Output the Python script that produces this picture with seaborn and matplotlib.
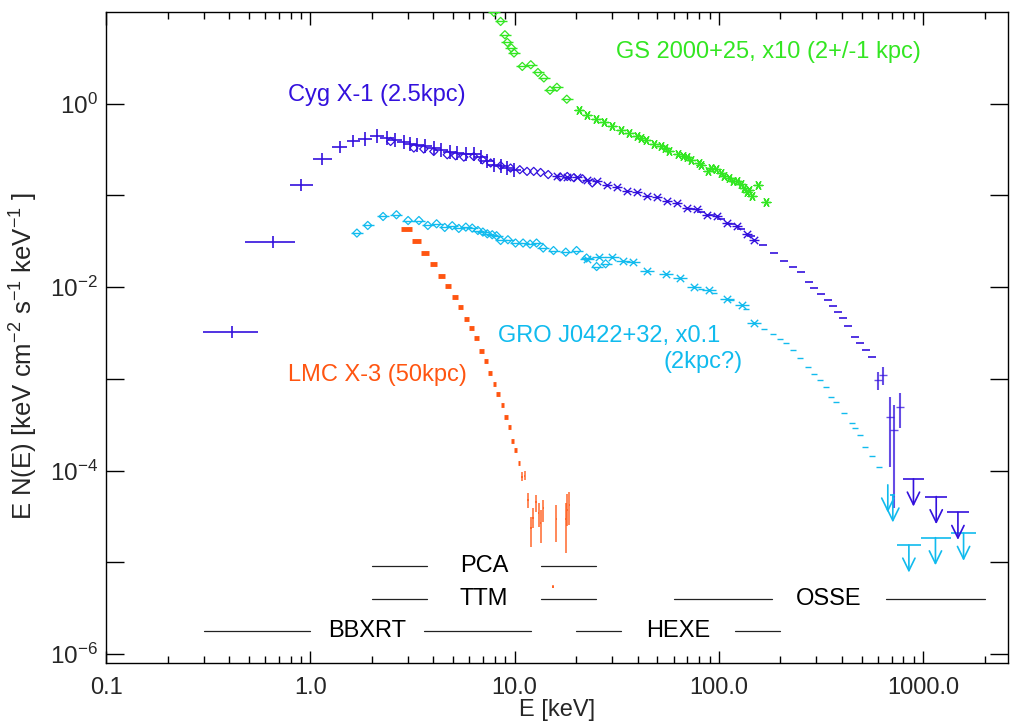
import numpy as np
import pandas as pd
import matplotlib
matplotlib.use('Agg')
import matplotlib.pyplot as plt
from matplotlib.markers import MarkerStyle
from matplotlib.ticker import FixedLocator, FixedFormatter, NullFormatter, NullLocator, LogLocator
import seaborn as sns

CYG = '#3311dd'
GRO = '#11bbee'
GS = '#33e622'
LMC = '#ff5511'

# ---- Cyg X-1 ----
# BBXRT, wide bins at low energy
cyg_bb_e = [0.415, 0.656, 0.900, 1.14, 1.39, 1.62]
cyg_bb_elo = [0.299, 0.480, 0.792, 1.03, 1.28, 1.51]
cyg_bb_ehi = [0.556, 0.844, 1.026, 1.27, 1.51, 1.76]
cyg_bb_f = [3.26e-3, 0.0313, 0.130, 0.249, 0.337, 0.392]
cyg_bb_flo = [2.81e-3, 0.0269, 0.112, 0.214, 0.290, 0.337]
cyg_bb_fhi = [3.79e-3, 0.0364, 0.151, 0.289, 0.392, 0.455]
# BBXRT, narrow bins
cyg_bb2_e = [1.86, 2.12, 2.38, 2.61, 2.87, 3.09, 3.33, 3.66, 4.02, 4.34, 4.82, 5.24,
             5.75, 6.31, 6.81, 7.35, 7.92, 8.54, 9.21, 9.93]
cyg_bb2_f = [0.415, 0.440, 0.423, 0.405, 0.379, 0.364, 0.355, 0.342, 0.329, 0.315, 0.297, 0.290,
             0.285, 0.283, 0.262, 0.235, 0.216, 0.207, 0.199, 0.191]
# PCA / TTM
cyg_pca_e = [2.47, 3.21, 3.59, 4.02, 4.68, 5.14, 5.64, 6.31, 6.95, 7.63, 8.54, 9.55, 10.6,
             11.5, 12.4, 13.4, 14.6, 16.7, 18.1, 19.5, 21.5, 24.0]
cyg_pca_f = [0.388, 0.329, 0.321, 0.302, 0.278, 0.271, 0.262, 0.266, 0.245, 0.226, 0.211, 0.199,
             0.191, 0.183, 0.183, 0.178, 0.169, 0.159, 0.161, 0.156, 0.152, 0.137]
# HEXE
cyg_hexe_e = [16.1, 18.0, 20.1, 22.5, 25.2, 28.2, 31.6, 35.4, 39.6, 44.4, 49.7, 55.6, 62.2,
              69.7, 78.0, 87.3, 97.7, 109, 122, 137, 149]
cyg_hexe_f = [0.164, 0.158, 0.157, 0.146, 0.143, 0.129, 0.124, 0.112, 0.108, 0.098, 0.096,
              0.086, 0.083, 0.073, 0.071, 0.062, 0.059, 0.050, 0.047, 0.038, 0.033]
# OSSE
cyg_osse_e = [72.9, 81.6, 91.4, 102, 115, 128, 144, 164, 187, 209, 230, 252, 277, 293, 316,
              341, 361, 382, 404, 428, 461, 493, 526, 561]
cyg_osse_f = [0.0716, 0.0664, 0.0608, 0.0557, 0.0491, 0.0433, 0.0363, 0.0285, 0.0235, 0.0191,
              0.0166, 0.0145, 0.0115, 0.00977, 0.00848, 0.00729, 0.00627, 0.00535, 0.0046,
              0.00382, 0.0029, 0.00249, 0.00207, 0.00173]
cyg_osse_hi_e = [600, 634, 684, 723, 774]
cyg_osse_hi_f = [9.77e-4, 1.11e-3, 3.89e-4, 2.79e-4, 5.0e-4]
cyg_osse_hi_flo = [7.6e-4, 8.62e-4, 1.11e-4, 3.9e-5, 2.9e-4]
cyg_osse_hi_fhi = [1.2e-3, 1.36e-3, 6.43e-4, 5.22e-4, 7.0e-4]
cyg_ul_e = [896, 1158, 1479]
cyg_ul_elo = [795, 1023, 1311]
cyg_ul_ehi = [1014, 1311, 1675]
cyg_ul_f = [8.13e-5, 5.22e-5, 3.52e-5]

# ---- GRO J0422+32 (x0.1) ----
gro_bb_e = [1.69, 1.91, 2.27, 2.64, 3.01, 3.40, 3.76, 4.15, 4.55, 4.95, 5.33, 5.77, 6.20, 6.61,
            6.99, 7.35, 7.77, 8.16, 8.54, 9.27, 10.1, 11.0, 11.9, 12.8, 13.8, 15.5, 17.8, 20.1,
            22.5, 25.2, 27.9]
gro_bb_f = [0.0389, 0.0471, 0.059, 0.0616, 0.0533, 0.0533, 0.0471, 0.0491, 0.0448, 0.0468,
            0.0437, 0.0452, 0.0441, 0.0415, 0.0399, 0.0382, 0.0373, 0.0364, 0.0323, 0.0329,
            0.0303, 0.0303, 0.0295, 0.0303, 0.0267, 0.0251, 0.0241, 0.0251, 0.0208, 0.0168, 0.018]
gro_hexe_e = [22.7, 25.9, 29.8, 34.1, 37.8, 44.7, 55.0, 64.6, 75.1, 89.0, 109, 130, 149]
gro_hexe_f = [0.0204, 0.0213, 0.0213, 0.0194, 0.0188, 0.0152, 0.014, 0.0126, 0.0100, 0.00937,
              0.00741, 0.00643, 0.00406]
gro_osse_e = [81.6, 94.5, 115, 136, 167, 183, 199, 213, 230, 250, 272, 293, 314, 335, 354, 375,
              411, 447, 464, 493, 516, 561, 611]
gro_osse_f = [0.0096, 0.0086, 0.0073, 0.0058, 0.00352, 0.00308, 0.00272, 0.00246, 0.00207,
              0.00169, 0.00135, 0.00114, 9.77e-4, 8.26e-4, 6.43e-4, 5.67e-4, 4.24e-4, 3.3e-4,
              2.9e-4, 2.46e-4, 1.79e-4, 1.45e-4, 1.11e-4]
gro_ul_e = [671, 710, 851, 1148, 1576]
gro_ul_elo = [671, 690, 746, 970, 1371]
gro_ul_ehi = [671, 730, 970, 1371, 1820]
gro_ul_f = [7.0e-5, 5.45e-5, 1.55e-5, 1.86e-5, 2.08e-5]

# ---- GS 2000+25 (x10) ----
gs_bb_e = [7.92, 8.54, 8.96, 9.21, 9.64, 9.93, 10.9, 12.0, 13.0, 13.9, 14.9, 16.1, 18.0]
gs_bb_f = [9.9, 7.89, 5.65, 4.66, 4.05, 3.57, 2.55, 2.66, 2.19, 1.91, 1.40, 1.51, 1.12]
gs_hexe_e = [20.7, 22.7, 24.9, 27.4, 30.1, 33.1, 36.3, 39.9, 41.5, 43.9, 48.2, 52.0, 54.5, 57.0,
             62.8, 66.4, 69.5, 72.9, 80.0, 81.6, 88.1, 91.4, 96.6, 102, 106, 112, 117, 123, 128,
             133, 138, 141, 146, 155, 170]
gs_hexe_f = [0.845, 0.759, 0.681, 0.625, 0.575, 0.512, 0.479, 0.44, 0.42, 0.405, 0.366, 0.342,
             0.33, 0.302, 0.285, 0.271, 0.26, 0.245, 0.226, 0.215, 0.183, 0.20, 0.194, 0.175,
             0.161, 0.155, 0.142, 0.142, 0.135, 0.12, 0.108, 0.115, 0.0975, 0.131, 0.0847]

# ---- LMC X-3 ----
lmc_e = [2.96, 3.31, 3.66, 4.02, 4.37, 4.73, 5.10, 5.43, 5.82, 6.15, 6.53, 6.89, 7.23, 7.60,
         7.97, 8.32, 8.71, 9.06, 9.42, 9.78, 10.1, 10.5]
lmc_f = [0.0433, 0.0315, 0.0235, 0.0179, 0.0134, 0.0104, 0.0078, 0.00601, 0.00452, 0.00358,
         0.00281, 0.00202, 0.00156, 0.00117, 8.78e-4, 6.88e-4, 5.26e-4, 3.83e-4, 3.03e-4,
         2.11e-4, 1.66e-4, 1.21e-4]
lmc_err_e = [10.9, 11.2, 11.6, 12.0, 12.3, 12.7, 13.1, 13.4, 13.8, 16.0, 17.8, 18.1, 18.5, 15.4]
lmc_err_f = [8.63e-5, 8.85e-5, 4.81e-5, 2.36e-5, 3.03e-5, 4.54e-5, 3.44e-5, 2.67e-5, 3.9e-5,
             2.96e-5, 2.96e-5, 3.74e-5, 4.24e-5, 5.45e-6]
lmc_err_flo = [7.8e-5, 8.0e-5, 3.96e-5, 1.49e-5, 2.36e-5, 3.58e-5, 2.46e-5, 1.62e-5, 2.79e-5,
               1.65e-5, 1.28e-5, 2.5e-5, 2.56e-5, 5.3e-6]
lmc_err_fhi = [9.6e-5, 9.8e-5, 5.69e-5, 3.16e-5, 3.96e-5, 5.45e-5, 4.43e-5, 3.74e-5, 4.81e-5,
               4.24e-5, 4.43e-5, 5.5e-5, 5.92e-5, 5.6e-6]

# ---- instrument bands ----
band_names = ['PCA', 'TTM', 'BBXRT', 'HEXE', 'OSSE']
band_lo = [2.0, 2.0, 0.3, 20, 60]
band_hi = [25, 25, 12, 200, 2000]
band_y = [9.2e-6, 4.0e-6, 1.8e-6, 1.8e-6, 4.0e-6]

x_ticks = [0.1, 1, 10, 100, 1000]
x_tick_labels = ['0.1', '1.0', '10.0', '100.0', '1000.0']
y_ticks = [1e-6, 1e-5, 1e-4, 1e-3, 1e-2, 1e-1, 1]
y_tick_labels = ['$10^{-6}$', '', '$10^{-4}$', '', '$10^{-2}$', '', '$10^{0}$']


def marks(ax, e, f, color, marker, s, lw=1.0, alpha=1.0):
    df = pd.DataFrame({'E': e, 'F': f})
    sns.scatterplot(data=df, x='E', y='F', ax=ax, marker=marker, s=s, color=color,
                    linewidth=lw, alpha=alpha, legend=False, zorder=3)


def upper_limits(ax, e, elo, ehi, f, color):
    ax.hlines(f, elo, ehi, color=color, lw=1.2)
    for xe, yf in zip(e, f):
        ax.annotate('', xy=(xe, yf * 0.5), xytext=(xe, yf),
                    arrowprops=dict(arrowstyle='->,head_length=0.45,head_width=0.22',
                                    color=color, lw=1.2, shrinkA=0, shrinkB=0,
                                    mutation_scale=20))


def main():
    sns.set_theme(style='ticks')
    plt.rcParams['font.family'] = ['Liberation Sans', 'DejaVu Sans']
    plt.rcParams['mathtext.fontset'] = 'custom'
    plt.rcParams['mathtext.rm'] = 'Liberation Sans'
    plt.rcParams['mathtext.it'] = 'Liberation Sans:italic'
    plt.rcParams['mathtext.bf'] = 'Liberation Sans:bold'
    plt.rcParams['mathtext.default'] = 'regular'

    fig = plt.figure(figsize=(10.1, 7.27), dpi=100)
    ax = fig.add_axes([0.105, 0.088, 0.893, 0.8955])
    ax.set_xscale('log')
    ax.set_yscale('log')

    diamond = MarkerStyle('D', fillstyle='none')

    # Cyg X-1
    cyg_e = np.array(cyg_bb_e)
    cyg_f = np.array(cyg_bb_f)
    ax.errorbar(cyg_e, cyg_f,
                xerr=[cyg_e - np.array(cyg_bb_elo), np.array(cyg_bb_ehi) - cyg_e],
                yerr=[cyg_f - np.array(cyg_bb_flo), np.array(cyg_bb_fhi) - cyg_f],
                fmt='none', ecolor=CYG, elinewidth=1.2, capsize=0)
    marks(ax, cyg_bb2_e, cyg_bb2_f, CYG, '+', 110, lw=1.2)
    marks(ax, cyg_pca_e, cyg_pca_f, CYG, diamond, 17, lw=0.9)
    marks(ax, cyg_hexe_e, cyg_hexe_f, CYG, '_', 60, lw=1.0)
    marks(ax, cyg_hexe_e, cyg_hexe_f, CYG, 'x', 28, lw=1.0)
    marks(ax, cyg_osse_e, cyg_osse_f, CYG, '_', 30, lw=1.2)
    hi_e = np.array(cyg_osse_hi_e)
    hi_f = np.array(cyg_osse_hi_f)
    ax.errorbar(hi_e, hi_f, yerr=[hi_f - np.array(cyg_osse_hi_flo), np.array(cyg_osse_hi_fhi) - hi_f],
                fmt='_', ms=6, color=CYG, elinewidth=1.5, capsize=0, alpha=0.75)
    upper_limits(ax, cyg_ul_e, cyg_ul_elo, cyg_ul_ehi, cyg_ul_f, CYG)

    # GRO J0422+32
    marks(ax, gro_bb_e, gro_bb_f, GRO, '_', 70, lw=1.0)
    marks(ax, gro_bb_e, gro_bb_f, GRO, diamond, 17, lw=0.9)
    marks(ax, gro_hexe_e, gro_hexe_f, GRO, '_', 110, lw=1.0)
    marks(ax, gro_hexe_e, gro_hexe_f, GRO, 'x', 28, lw=1.0)
    marks(ax, gro_osse_e, gro_osse_f, GRO, '_', 25, lw=1.0)
    upper_limits(ax, gro_ul_e, gro_ul_elo, gro_ul_ehi, gro_ul_f, GRO)

    # GS 2000+25
    marks(ax, gs_bb_e, gs_bb_f, GS, '_', 80, lw=1.0)
    marks(ax, gs_bb_e, gs_bb_f, GS, diamond, 17, lw=0.9)
    marks(ax, gs_hexe_e, gs_hexe_f, GS, (6, 2, 90), 40, lw=1.0)

    # LMC X-3, bins of constant width in keV
    ax.errorbar(lmc_e, lmc_f, xerr=0.17, fmt='none', ecolor=LMC, elinewidth=3.5, capsize=0)
    le = np.array(lmc_err_e)
    lf = np.array(lmc_err_f)
    ax.errorbar(le, lf, yerr=[lf - np.array(lmc_err_flo), np.array(lmc_err_fhi) - lf],
                xerr=0.1, fmt='none', ecolor=LMC, elinewidth=1.3, capsize=0, alpha=0.75)

    # instrument bands
    gap = 10 ** 0.28
    for name, lo, hi, yb in zip(band_names, band_lo, band_hi, band_y):
        mid = np.sqrt(lo * hi)
        ax.plot([lo, mid / gap], [yb, yb], color='#222222', lw=0.9)
        ax.plot([mid * gap, hi], [yb, yb], color='#222222', lw=0.9)
        ax.text(mid, yb, name, ha='center', va='center', fontsize=17, color='black')

    # source labels
    ax.text(0.774, 1.078, 'Cyg X-1 (2.5kpc)', color=CYG, fontsize=17, va='baseline')
    ax.text(31.3, 3.15, 'GS 2000+25, x10 (2+/-1 kpc)', color=GS, fontsize=17, va='baseline')
    ax.text(8.26, 2.54e-3, 'GRO J0422+32, x0.1', color=GRO, fontsize=17, va='baseline')
    ax.text(53.7, 1.32e-3, '(2kpc?)', color=GRO, fontsize=17, va='baseline')
    ax.text(5.87, 9.53e-4, 'LMC X-3 (50kpc)', color=LMC, fontsize=17, va='baseline', ha='right')

    ax.set_xlim(0.1, 2600)
    ax.set_ylim(8e-7, 10)
    ax.xaxis.set_major_locator(FixedLocator(x_ticks))
    ax.xaxis.set_major_formatter(FixedFormatter(x_tick_labels))
    ax.xaxis.set_minor_locator(LogLocator(base=10, subs=range(2, 10)))
    ax.xaxis.set_minor_formatter(NullFormatter())
    ax.yaxis.set_major_locator(FixedLocator(y_ticks))
    ax.yaxis.set_major_formatter(FixedFormatter(y_tick_labels))
    ax.yaxis.set_minor_locator(NullLocator())
    ax.tick_params(which='both', direction='in', top=True, right=True, width=1, color='black')
    ax.tick_params(axis='x', which='major', length=9, pad=10, labelsize=17)
    ax.tick_params(axis='x', which='minor', length=5)
    ax.tick_params(axis='y', which='major', length=13, pad=6, labelsize=17.5)
    for sp in ax.spines.values():
        sp.set_color('black')
        sp.set_linewidth(1.0)

    ax.set_xlabel('E [keV]', fontsize=17)
    ax.set_ylabel('E N(E) [keV cm$^{-2}$ s$^{-1}$ keV$^{-1}$ ]', fontsize=18.5)
    ax.xaxis.set_label_coords(0.5, -0.056)
    ax.yaxis.set_label_coords(-0.073, 0.471)

    fig.savefig('out.png', dpi=100)


if __name__ == '__main__':
    main()
